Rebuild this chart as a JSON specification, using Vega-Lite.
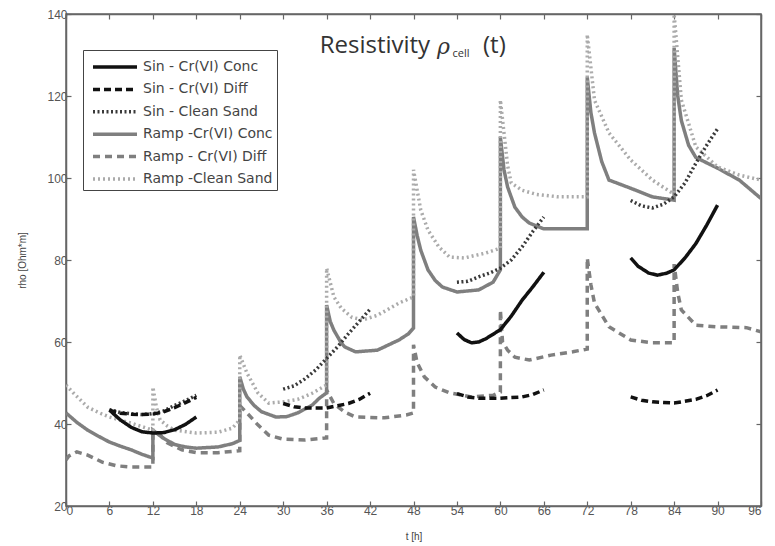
{
  "$schema": "https://vega.github.io/schema/vega-lite/v6.json",
  "width": 695,
  "height": 492,
  "autosize": {"type": "none"},
  "padding": {"left": 66, "top": 14, "right": 14, "bottom": 40},
  "background": "white",
  "config": {
    "view": {"stroke": "#666666", "strokeWidth": 1.5},
    "axis": {"grid": false, "domainColor": "#666666", "domainWidth": 1.5, "tickColor": "#666666", "tickWidth": 1.2, "tickSize": -5, "labelFont": "Liberation Sans", "labelFontSize": 12, "labelColor": "#555555", "labelPadding": 4, "titleFont": "Liberation Sans", "titleFontSize": 10, "titleFontWeight": "normal", "titleColor": "#444444"},
    "legend": {"orient": "none", "legendX": 17, "legendY": 36, "title": null, "padding": 4, "strokeColor": "#444444", "fillColor": "white", "symbolType": "M-2,0H2", "symbolSize": 484, "symbolOffset": 15, "labelFont": "DejaVu Sans", "labelFontSize": 14, "labelColor": "#444444", "rowPadding": 2.4, "labelOffset": 15, "cornerRadius": 0}
  },
  "datasets": {
    "curves": [
      {"s":"Ramp -Cr(VI) Conc","g":"RC","t":0,"v":42.7},{"s":"Ramp -Cr(VI) Conc","g":"RC","t":1.5,"v":40.4},{"s":"Ramp -Cr(VI) Conc","g":"RC","t":3,"v":38.5},{"s":"Ramp -Cr(VI) Conc","g":"RC","t":4.5,"v":37},{"s":"Ramp -Cr(VI) Conc","g":"RC","t":6,"v":35.6},{"s":"Ramp -Cr(VI) Conc","g":"RC","t":7.5,"v":34.6},{"s":"Ramp -Cr(VI) Conc","g":"RC","t":9,"v":33.7},{"s":"Ramp -Cr(VI) Conc","g":"RC","t":10.5,"v":32.6},{"s":"Ramp -Cr(VI) Conc","g":"RC","t":12,"v":31.7},
      {"s":"Ramp -Cr(VI) Conc","g":"RC","t":12,"v":38.5},{"s":"Ramp -Cr(VI) Conc","g":"RC","t":12.5,"v":37.8},{"s":"Ramp -Cr(VI) Conc","g":"RC","t":13.5,"v":36.5},{"s":"Ramp -Cr(VI) Conc","g":"RC","t":15,"v":35},{"s":"Ramp -Cr(VI) Conc","g":"RC","t":16.5,"v":34.4},{"s":"Ramp -Cr(VI) Conc","g":"RC","t":18,"v":34.1},{"s":"Ramp -Cr(VI) Conc","g":"RC","t":21,"v":34.4},{"s":"Ramp -Cr(VI) Conc","g":"RC","t":23,"v":35.2},{"s":"Ramp -Cr(VI) Conc","g":"RC","t":24,"v":36},
      {"s":"Ramp -Cr(VI) Conc","g":"RC","t":24,"v":51.5},{"s":"Ramp -Cr(VI) Conc","g":"RC","t":24.5,"v":48.5},{"s":"Ramp -Cr(VI) Conc","g":"RC","t":25,"v":46.6},{"s":"Ramp -Cr(VI) Conc","g":"RC","t":26,"v":44.5},{"s":"Ramp -Cr(VI) Conc","g":"RC","t":27,"v":43},{"s":"Ramp -Cr(VI) Conc","g":"RC","t":29,"v":41.7},{"s":"Ramp -Cr(VI) Conc","g":"RC","t":30.5,"v":41.8},{"s":"Ramp -Cr(VI) Conc","g":"RC","t":32,"v":42.7},{"s":"Ramp -Cr(VI) Conc","g":"RC","t":34,"v":44.6},{"s":"Ramp -Cr(VI) Conc","g":"RC","t":35,"v":46.3},{"s":"Ramp -Cr(VI) Conc","g":"RC","t":36,"v":47.6},
      {"s":"Ramp -Cr(VI) Conc","g":"RC","t":36,"v":69},{"s":"Ramp -Cr(VI) Conc","g":"RC","t":36.5,"v":65},{"s":"Ramp -Cr(VI) Conc","g":"RC","t":37,"v":62.9},{"s":"Ramp -Cr(VI) Conc","g":"RC","t":38,"v":59.8},{"s":"Ramp -Cr(VI) Conc","g":"RC","t":38.5,"v":58.8},{"s":"Ramp -Cr(VI) Conc","g":"RC","t":40,"v":57.6},{"s":"Ramp -Cr(VI) Conc","g":"RC","t":43,"v":58},{"s":"Ramp -Cr(VI) Conc","g":"RC","t":46,"v":60.5},{"s":"Ramp -Cr(VI) Conc","g":"RC","t":47.3,"v":62},{"s":"Ramp -Cr(VI) Conc","g":"RC","t":48,"v":63.4},
      {"s":"Ramp -Cr(VI) Conc","g":"RC","t":48,"v":90.5},{"s":"Ramp -Cr(VI) Conc","g":"RC","t":48.5,"v":86},{"s":"Ramp -Cr(VI) Conc","g":"RC","t":49,"v":82.4},{"s":"Ramp -Cr(VI) Conc","g":"RC","t":50,"v":77.6},{"s":"Ramp -Cr(VI) Conc","g":"RC","t":51,"v":75},{"s":"Ramp -Cr(VI) Conc","g":"RC","t":52,"v":73.4},{"s":"Ramp -Cr(VI) Conc","g":"RC","t":54,"v":72.2},{"s":"Ramp -Cr(VI) Conc","g":"RC","t":57,"v":72.7},{"s":"Ramp -Cr(VI) Conc","g":"RC","t":59,"v":74.6},{"s":"Ramp -Cr(VI) Conc","g":"RC","t":60,"v":77.6},
      {"s":"Ramp -Cr(VI) Conc","g":"RC","t":60,"v":110},{"s":"Ramp -Cr(VI) Conc","g":"RC","t":60.5,"v":102},{"s":"Ramp -Cr(VI) Conc","g":"RC","t":61,"v":97.8},{"s":"Ramp -Cr(VI) Conc","g":"RC","t":62,"v":92.9},{"s":"Ramp -Cr(VI) Conc","g":"RC","t":63,"v":90.5},{"s":"Ramp -Cr(VI) Conc","g":"RC","t":64,"v":89},{"s":"Ramp -Cr(VI) Conc","g":"RC","t":66,"v":87.6},{"s":"Ramp -Cr(VI) Conc","g":"RC","t":72,"v":87.6},
      {"s":"Ramp -Cr(VI) Conc","g":"RC","t":72,"v":124.6},{"s":"Ramp -Cr(VI) Conc","g":"RC","t":72.5,"v":116},{"s":"Ramp -Cr(VI) Conc","g":"RC","t":73,"v":111},{"s":"Ramp -Cr(VI) Conc","g":"RC","t":74,"v":104},{"s":"Ramp -Cr(VI) Conc","g":"RC","t":75,"v":99.5},{"s":"Ramp -Cr(VI) Conc","g":"RC","t":78,"v":97.5},{"s":"Ramp -Cr(VI) Conc","g":"RC","t":81,"v":95.4},{"s":"Ramp -Cr(VI) Conc","g":"RC","t":84,"v":94.6},
      {"s":"Ramp -Cr(VI) Conc","g":"RC","t":84,"v":131.7},{"s":"Ramp -Cr(VI) Conc","g":"RC","t":84.5,"v":120},{"s":"Ramp -Cr(VI) Conc","g":"RC","t":85,"v":114},{"s":"Ramp -Cr(VI) Conc","g":"RC","t":86,"v":108},{"s":"Ramp -Cr(VI) Conc","g":"RC","t":87,"v":105},{"s":"Ramp -Cr(VI) Conc","g":"RC","t":90,"v":102.4},{"s":"Ramp -Cr(VI) Conc","g":"RC","t":93,"v":99.5},{"s":"Ramp -Cr(VI) Conc","g":"RC","t":96,"v":95},

      {"s":"Ramp - Cr(VI) Diff","g":"RD","t":0,"v":31.2},{"s":"Ramp - Cr(VI) Diff","g":"RD","t":0.4,"v":32.2},{"s":"Ramp - Cr(VI) Diff","g":"RD","t":1.5,"v":33.2},{"s":"Ramp - Cr(VI) Diff","g":"RD","t":3,"v":32.4},{"s":"Ramp - Cr(VI) Diff","g":"RD","t":5,"v":30.7},{"s":"Ramp - Cr(VI) Diff","g":"RD","t":7,"v":29.8},{"s":"Ramp - Cr(VI) Diff","g":"RD","t":9,"v":29.5},{"s":"Ramp - Cr(VI) Diff","g":"RD","t":12,"v":29.5},
      {"s":"Ramp - Cr(VI) Diff","g":"RD","t":12,"v":37.8},{"s":"Ramp - Cr(VI) Diff","g":"RD","t":13,"v":37.3},{"s":"Ramp - Cr(VI) Diff","g":"RD","t":14,"v":35.4},{"s":"Ramp - Cr(VI) Diff","g":"RD","t":16,"v":33.7},{"s":"Ramp - Cr(VI) Diff","g":"RD","t":18,"v":33},{"s":"Ramp - Cr(VI) Diff","g":"RD","t":21,"v":33},{"s":"Ramp - Cr(VI) Diff","g":"RD","t":24,"v":33.5},
      {"s":"Ramp - Cr(VI) Diff","g":"RD","t":24,"v":44.5},{"s":"Ramp - Cr(VI) Diff","g":"RD","t":25,"v":42.7},{"s":"Ramp - Cr(VI) Diff","g":"RD","t":26.5,"v":39.8},{"s":"Ramp - Cr(VI) Diff","g":"RD","t":28,"v":37.3},{"s":"Ramp - Cr(VI) Diff","g":"RD","t":30,"v":36.3},{"s":"Ramp - Cr(VI) Diff","g":"RD","t":33,"v":36.1},{"s":"Ramp - Cr(VI) Diff","g":"RD","t":36,"v":36.6},
      {"s":"Ramp - Cr(VI) Diff","g":"RD","t":36,"v":48.3},{"s":"Ramp - Cr(VI) Diff","g":"RD","t":37,"v":45},{"s":"Ramp - Cr(VI) Diff","g":"RD","t":38.5,"v":42.9},{"s":"Ramp - Cr(VI) Diff","g":"RD","t":40,"v":41.7},{"s":"Ramp - Cr(VI) Diff","g":"RD","t":44,"v":41.5},{"s":"Ramp - Cr(VI) Diff","g":"RD","t":47,"v":42.2},{"s":"Ramp - Cr(VI) Diff","g":"RD","t":48,"v":42.7},
      {"s":"Ramp - Cr(VI) Diff","g":"RD","t":48,"v":59.3},{"s":"Ramp - Cr(VI) Diff","g":"RD","t":48.5,"v":55},{"s":"Ramp - Cr(VI) Diff","g":"RD","t":49.5,"v":51.5},{"s":"Ramp - Cr(VI) Diff","g":"RD","t":51,"v":49},{"s":"Ramp - Cr(VI) Diff","g":"RD","t":53,"v":47.6},{"s":"Ramp - Cr(VI) Diff","g":"RD","t":56,"v":46.6},{"s":"Ramp - Cr(VI) Diff","g":"RD","t":59,"v":47},{"s":"Ramp - Cr(VI) Diff","g":"RD","t":60,"v":47.8},
      {"s":"Ramp - Cr(VI) Diff","g":"RD","t":60,"v":67.8},{"s":"Ramp - Cr(VI) Diff","g":"RD","t":60.3,"v":60},{"s":"Ramp - Cr(VI) Diff","g":"RD","t":61,"v":58},{"s":"Ramp - Cr(VI) Diff","g":"RD","t":62,"v":56.3},{"s":"Ramp - Cr(VI) Diff","g":"RD","t":64,"v":55.6},{"s":"Ramp - Cr(VI) Diff","g":"RD","t":67,"v":56.8},{"s":"Ramp - Cr(VI) Diff","g":"RD","t":70,"v":57.6},{"s":"Ramp - Cr(VI) Diff","g":"RD","t":72,"v":58.3},
      {"s":"Ramp - Cr(VI) Diff","g":"RD","t":72,"v":80.5},{"s":"Ramp - Cr(VI) Diff","g":"RD","t":72.5,"v":74},{"s":"Ramp - Cr(VI) Diff","g":"RD","t":73,"v":69.5},{"s":"Ramp - Cr(VI) Diff","g":"RD","t":75,"v":63.7},{"s":"Ramp - Cr(VI) Diff","g":"RD","t":78,"v":60.5},{"s":"Ramp - Cr(VI) Diff","g":"RD","t":81,"v":59.8},{"s":"Ramp - Cr(VI) Diff","g":"RD","t":84,"v":59.8},
      {"s":"Ramp - Cr(VI) Diff","g":"RD","t":84,"v":79},{"s":"Ramp - Cr(VI) Diff","g":"RD","t":84.5,"v":72},{"s":"Ramp - Cr(VI) Diff","g":"RD","t":85,"v":67.8},{"s":"Ramp - Cr(VI) Diff","g":"RD","t":87,"v":64.1},{"s":"Ramp - Cr(VI) Diff","g":"RD","t":90,"v":63.7},{"s":"Ramp - Cr(VI) Diff","g":"RD","t":94,"v":63.5},{"s":"Ramp - Cr(VI) Diff","g":"RD","t":96,"v":62.5},

      {"s":"Ramp -Clean Sand","g":"RS","t":0,"v":49.5},{"s":"Ramp -Clean Sand","g":"RS","t":1,"v":47.6},{"s":"Ramp -Clean Sand","g":"RS","t":3,"v":44.1},{"s":"Ramp -Clean Sand","g":"RS","t":4.5,"v":42.8},{"s":"Ramp -Clean Sand","g":"RS","t":6,"v":41.7},{"s":"Ramp -Clean Sand","g":"RS","t":9,"v":40.2},{"s":"Ramp -Clean Sand","g":"RS","t":12,"v":38.5},
      {"s":"Ramp -Clean Sand","g":"RS","t":12,"v":49},{"s":"Ramp -Clean Sand","g":"RS","t":12.5,"v":44},{"s":"Ramp -Clean Sand","g":"RS","t":13,"v":41},{"s":"Ramp -Clean Sand","g":"RS","t":14,"v":39.5},{"s":"Ramp -Clean Sand","g":"RS","t":15,"v":38.5},{"s":"Ramp -Clean Sand","g":"RS","t":18,"v":37.8},{"s":"Ramp -Clean Sand","g":"RS","t":21,"v":38},{"s":"Ramp -Clean Sand","g":"RS","t":23,"v":39},{"s":"Ramp -Clean Sand","g":"RS","t":24,"v":41},
      {"s":"Ramp -Clean Sand","g":"RS","t":24,"v":56.8},{"s":"Ramp -Clean Sand","g":"RS","t":25,"v":52.4},{"s":"Ramp -Clean Sand","g":"RS","t":26.5,"v":47.6},{"s":"Ramp -Clean Sand","g":"RS","t":28,"v":45.1},{"s":"Ramp -Clean Sand","g":"RS","t":30,"v":45.4},{"s":"Ramp -Clean Sand","g":"RS","t":32,"v":46},{"s":"Ramp -Clean Sand","g":"RS","t":34,"v":47.5},{"s":"Ramp -Clean Sand","g":"RS","t":36,"v":49.5},
      {"s":"Ramp -Clean Sand","g":"RS","t":36,"v":78},{"s":"Ramp -Clean Sand","g":"RS","t":37,"v":71},{"s":"Ramp -Clean Sand","g":"RS","t":38,"v":68.3},{"s":"Ramp -Clean Sand","g":"RS","t":39.5,"v":66},{"s":"Ramp -Clean Sand","g":"RS","t":41,"v":65.4},{"s":"Ramp -Clean Sand","g":"RS","t":43,"v":66.5},{"s":"Ramp -Clean Sand","g":"RS","t":46,"v":69.5},{"s":"Ramp -Clean Sand","g":"RS","t":48,"v":71},
      {"s":"Ramp -Clean Sand","g":"RS","t":48,"v":102},{"s":"Ramp -Clean Sand","g":"RS","t":49,"v":92.2},{"s":"Ramp -Clean Sand","g":"RS","t":50,"v":87.3},{"s":"Ramp -Clean Sand","g":"RS","t":51.5,"v":83.2},{"s":"Ramp -Clean Sand","g":"RS","t":53,"v":80.7},{"s":"Ramp -Clean Sand","g":"RS","t":55,"v":80.5},{"s":"Ramp -Clean Sand","g":"RS","t":58,"v":81.7},{"s":"Ramp -Clean Sand","g":"RS","t":60,"v":82.9},
      {"s":"Ramp -Clean Sand","g":"RS","t":60,"v":119},{"s":"Ramp -Clean Sand","g":"RS","t":61,"v":103},{"s":"Ramp -Clean Sand","g":"RS","t":61.5,"v":98.8},{"s":"Ramp -Clean Sand","g":"RS","t":63,"v":97},{"s":"Ramp -Clean Sand","g":"RS","t":65,"v":96},{"s":"Ramp -Clean Sand","g":"RS","t":68,"v":95.4},{"s":"Ramp -Clean Sand","g":"RS","t":72,"v":95.4},
      {"s":"Ramp -Clean Sand","g":"RS","t":72,"v":135},{"s":"Ramp -Clean Sand","g":"RS","t":73,"v":119},{"s":"Ramp -Clean Sand","g":"RS","t":75,"v":111},{"s":"Ramp -Clean Sand","g":"RS","t":78,"v":104.4},{"s":"Ramp -Clean Sand","g":"RS","t":81,"v":99.5},{"s":"Ramp -Clean Sand","g":"RS","t":83.5,"v":96.6},{"s":"Ramp -Clean Sand","g":"RS","t":84,"v":96.3},
      {"s":"Ramp -Clean Sand","g":"RS","t":84,"v":140},{"s":"Ramp -Clean Sand","g":"RS","t":85,"v":119},{"s":"Ramp -Clean Sand","g":"RS","t":87,"v":107.6},{"s":"Ramp -Clean Sand","g":"RS","t":90,"v":102.7},{"s":"Ramp -Clean Sand","g":"RS","t":93,"v":100.7},{"s":"Ramp -Clean Sand","g":"RS","t":96,"v":99.5},

      {"s":"Sin - Clean Sand","g":"SS1","t":6,"v":43.5},{"s":"Sin - Clean Sand","g":"SS1","t":7.5,"v":42.8},{"s":"Sin - Clean Sand","g":"SS1","t":9,"v":42.5},{"s":"Sin - Clean Sand","g":"SS1","t":10.5,"v":42.3},{"s":"Sin - Clean Sand","g":"SS1","t":12,"v":42.5},{"s":"Sin - Clean Sand","g":"SS1","t":13.5,"v":43.2},{"s":"Sin - Clean Sand","g":"SS1","t":15,"v":44.5},{"s":"Sin - Clean Sand","g":"SS1","t":16.5,"v":45.7},{"s":"Sin - Clean Sand","g":"SS1","t":18,"v":47},
      {"s":"Sin - Clean Sand","g":"SS2","t":30,"v":48.5},{"s":"Sin - Clean Sand","g":"SS2","t":31.5,"v":49.3},{"s":"Sin - Clean Sand","g":"SS2","t":33,"v":51},{"s":"Sin - Clean Sand","g":"SS2","t":34.5,"v":53.2},{"s":"Sin - Clean Sand","g":"SS2","t":36,"v":56},{"s":"Sin - Clean Sand","g":"SS2","t":37.5,"v":58.8},{"s":"Sin - Clean Sand","g":"SS2","t":39,"v":62},{"s":"Sin - Clean Sand","g":"SS2","t":40.5,"v":65},{"s":"Sin - Clean Sand","g":"SS2","t":42,"v":68},
      {"s":"Sin - Clean Sand","g":"SS3","t":54,"v":74.6},{"s":"Sin - Clean Sand","g":"SS3","t":55.5,"v":74.8},{"s":"Sin - Clean Sand","g":"SS3","t":57,"v":75.9},{"s":"Sin - Clean Sand","g":"SS3","t":58.5,"v":76.8},{"s":"Sin - Clean Sand","g":"SS3","t":60,"v":78},{"s":"Sin - Clean Sand","g":"SS3","t":61.5,"v":80},{"s":"Sin - Clean Sand","g":"SS3","t":63,"v":83.2},{"s":"Sin - Clean Sand","g":"SS3","t":64.5,"v":87},{"s":"Sin - Clean Sand","g":"SS3","t":66,"v":90.5},
      {"s":"Sin - Clean Sand","g":"SS4","t":78,"v":94.5},{"s":"Sin - Clean Sand","g":"SS4","t":79.5,"v":93.2},{"s":"Sin - Clean Sand","g":"SS4","t":81,"v":92.7},{"s":"Sin - Clean Sand","g":"SS4","t":82.5,"v":93.6},{"s":"Sin - Clean Sand","g":"SS4","t":84,"v":95.4},{"s":"Sin - Clean Sand","g":"SS4","t":85.5,"v":98.8},{"s":"Sin - Clean Sand","g":"SS4","t":87,"v":103.6},{"s":"Sin - Clean Sand","g":"SS4","t":88.5,"v":108},{"s":"Sin - Clean Sand","g":"SS4","t":90,"v":112},

      {"s":"Sin - Cr(VI) Diff","g":"SD1","t":6,"v":43.4},{"s":"Sin - Cr(VI) Diff","g":"SD1","t":7.5,"v":42.6},{"s":"Sin - Cr(VI) Diff","g":"SD1","t":9,"v":42.4},{"s":"Sin - Cr(VI) Diff","g":"SD1","t":10.5,"v":42.3},{"s":"Sin - Cr(VI) Diff","g":"SD1","t":12,"v":42.4},{"s":"Sin - Cr(VI) Diff","g":"SD1","t":13.5,"v":43},{"s":"Sin - Cr(VI) Diff","g":"SD1","t":15,"v":44},{"s":"Sin - Cr(VI) Diff","g":"SD1","t":16.5,"v":45.2},{"s":"Sin - Cr(VI) Diff","g":"SD1","t":18,"v":46.5},
      {"s":"Sin - Cr(VI) Diff","g":"SD2","t":30,"v":45},{"s":"Sin - Cr(VI) Diff","g":"SD2","t":31.5,"v":44.2},{"s":"Sin - Cr(VI) Diff","g":"SD2","t":33,"v":43.9},{"s":"Sin - Cr(VI) Diff","g":"SD2","t":36,"v":43.9},{"s":"Sin - Cr(VI) Diff","g":"SD2","t":39,"v":45},{"s":"Sin - Cr(VI) Diff","g":"SD2","t":40.5,"v":46},{"s":"Sin - Cr(VI) Diff","g":"SD2","t":42,"v":47.5},
      {"s":"Sin - Cr(VI) Diff","g":"SD3","t":54,"v":47.4},{"s":"Sin - Cr(VI) Diff","g":"SD3","t":55.5,"v":46.6},{"s":"Sin - Cr(VI) Diff","g":"SD3","t":57,"v":46.3},{"s":"Sin - Cr(VI) Diff","g":"SD3","t":60,"v":46.3},{"s":"Sin - Cr(VI) Diff","g":"SD3","t":63,"v":46.6},{"s":"Sin - Cr(VI) Diff","g":"SD3","t":64.5,"v":47.2},{"s":"Sin - Cr(VI) Diff","g":"SD3","t":66,"v":48.3},
      {"s":"Sin - Cr(VI) Diff","g":"SD4","t":78,"v":46.6},{"s":"Sin - Cr(VI) Diff","g":"SD4","t":79.5,"v":45.8},{"s":"Sin - Cr(VI) Diff","g":"SD4","t":81,"v":45.4},{"s":"Sin - Cr(VI) Diff","g":"SD4","t":84,"v":45.1},{"s":"Sin - Cr(VI) Diff","g":"SD4","t":87,"v":46},{"s":"Sin - Cr(VI) Diff","g":"SD4","t":88.5,"v":46.9},{"s":"Sin - Cr(VI) Diff","g":"SD4","t":90,"v":48.3},

      {"s":"Sin - Cr(VI) Conc","g":"SC1","t":6,"v":43.4},{"s":"Sin - Cr(VI) Conc","g":"SC1","t":7.5,"v":41},{"s":"Sin - Cr(VI) Conc","g":"SC1","t":9,"v":39.2},{"s":"Sin - Cr(VI) Conc","g":"SC1","t":10.5,"v":38.1},{"s":"Sin - Cr(VI) Conc","g":"SC1","t":12,"v":37.8},{"s":"Sin - Cr(VI) Conc","g":"SC1","t":13.5,"v":37.9},{"s":"Sin - Cr(VI) Conc","g":"SC1","t":15,"v":38.6},{"s":"Sin - Cr(VI) Conc","g":"SC1","t":16.5,"v":39.9},{"s":"Sin - Cr(VI) Conc","g":"SC1","t":18,"v":41.7},
      {"s":"Sin - Cr(VI) Conc","g":"SC2","t":54,"v":62.2},{"s":"Sin - Cr(VI) Conc","g":"SC2","t":55,"v":60.6},{"s":"Sin - Cr(VI) Conc","g":"SC2","t":56,"v":59.8},{"s":"Sin - Cr(VI) Conc","g":"SC2","t":57,"v":60},{"s":"Sin - Cr(VI) Conc","g":"SC2","t":58,"v":60.8},{"s":"Sin - Cr(VI) Conc","g":"SC2","t":60,"v":63},{"s":"Sin - Cr(VI) Conc","g":"SC2","t":61.5,"v":66.3},{"s":"Sin - Cr(VI) Conc","g":"SC2","t":63,"v":70.2},{"s":"Sin - Cr(VI) Conc","g":"SC2","t":64.5,"v":73.5},{"s":"Sin - Cr(VI) Conc","g":"SC2","t":66,"v":77},
      {"s":"Sin - Cr(VI) Conc","g":"SC3","t":78,"v":80.5},{"s":"Sin - Cr(VI) Conc","g":"SC3","t":79,"v":78.5},{"s":"Sin - Cr(VI) Conc","g":"SC3","t":80.5,"v":76.8},{"s":"Sin - Cr(VI) Conc","g":"SC3","t":81.7,"v":76.3},{"s":"Sin - Cr(VI) Conc","g":"SC3","t":83,"v":76.8},{"s":"Sin - Cr(VI) Conc","g":"SC3","t":84,"v":77.6},{"s":"Sin - Cr(VI) Conc","g":"SC3","t":85.5,"v":80.5},{"s":"Sin - Cr(VI) Conc","g":"SC3","t":87,"v":84},{"s":"Sin - Cr(VI) Conc","g":"SC3","t":88.5,"v":88.5},{"s":"Sin - Cr(VI) Conc","g":"SC3","t":90,"v":93.4}
    ]
  },
  "layer": [
    {
      "data": {"name": "curves"},
      "mark": {"type": "line", "clip": true, "strokeCap": "butt"},
      "encoding": {
        "x": {"field": "t", "type": "quantitative", "scale": {"domain": [0, 96], "nice": false, "zero": false},
              "axis": {"values": [0,6,12,18,24,30,36,42,48,54,60,66,72,78,84,90,96], "title": "t [h]", "titlePadding": 15}},
        "y": {"field": "v", "type": "quantitative", "scale": {"domain": [20, 140], "nice": false, "zero": false},
              "axis": {"values": [20,40,60,80,100,120,140], "title": "rho [Ohm*m]", "titlePadding": 19}},
        "detail": {"field": "g"},
        "order": {"value": null},
        "color": {"field": "s", "type": "nominal",
                  "scale": {"domain": ["Sin - Cr(VI) Conc","Sin - Cr(VI) Diff","Sin - Clean Sand","Ramp -Cr(VI) Conc","Ramp - Cr(VI) Diff","Ramp -Clean Sand"],
                            "range": ["#111111","#111111","#3a3a3a","#7f7f7f","#7f7f7f","#ababab"]},
                  "legend": {"symbolType": "M-2,0H2", "symbolSize": 484}},
        "strokeDash": {"field": "s", "type": "nominal",
                  "scale": {"domain": ["Sin - Cr(VI) Conc","Sin - Cr(VI) Diff","Sin - Clean Sand","Ramp -Cr(VI) Conc","Ramp - Cr(VI) Diff","Ramp -Clean Sand"],
                            "range": [[1,0],[7,4],[2,2.5],[1,0],[7,5],[2,3]]}},
        "strokeWidth": {"field": "s", "type": "nominal",
                  "scale": {"domain": ["Sin - Cr(VI) Conc","Sin - Cr(VI) Diff","Sin - Clean Sand","Ramp -Cr(VI) Conc","Ramp - Cr(VI) Diff","Ramp -Clean Sand"],
                            "range": [3.5,3.5,2.8,1.5,1.3,1.5]}}
      }
    },
    {
      "data": {"values": [{}]},
      "mark": {"type": "text", "text": "Resistivity", "align": "right", "baseline": "alphabetic", "font": "Open Sans", "fontSize": 24, "color": "#333333"},
      "encoding": {
        "x": {"datum": 50.3, "type": "quantitative", "axis": {"orient": "top", "labels": false, "title": null, "values": [0,6,12,18,24,30,36,42,48,54,60,66,72,78,84,90,96]}},
        "y": {"datum": 130.5, "type": "quantitative", "axis": {"orient": "right", "labels": false, "title": null, "values": [20,40,60,80,100,120,140]}}
      }
    },
    {
      "data": {"values": [{}]},
      "mark": {"type": "text", "text": "ρ", "align": "left", "baseline": "alphabetic", "font": "DejaVu Serif", "fontStyle": "italic", "fontSize": 22, "color": "#333333"},
      "encoding": {"x": {"datum": 51.25, "type": "quantitative", "axis": null}, "y": {"datum": 130.3, "type": "quantitative", "axis": null}}
    },
    {
      "data": {"values": [{}]},
      "mark": {"type": "text", "text": "cell", "align": "left", "baseline": "alphabetic", "font": "Open Sans", "fontSize": 11, "color": "#333333"},
      "encoding": {"x": {"datum": 53.4, "type": "quantitative", "axis": null}, "y": {"datum": 129.6, "type": "quantitative", "axis": null}}
    },
    {
      "data": {"values": [{}]},
      "mark": {"type": "text", "text": "(t)", "align": "left", "baseline": "alphabetic", "font": "Open Sans", "fontSize": 24, "color": "#333333"},
      "encoding": {"x": {"datum": 57.6, "type": "quantitative", "axis": null}, "y": {"datum": 130.5, "type": "quantitative", "axis": null}}
    }
  ],
  "resolve": {"axis": {"x": "independent", "y": "independent"}}
}
